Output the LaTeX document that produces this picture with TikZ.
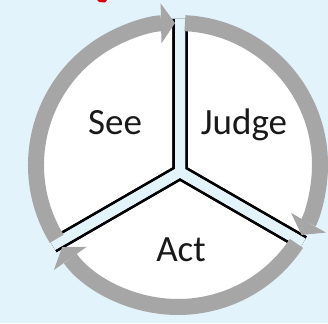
\documentclass[tikz,border=0pt]{standalone}
\usepackage{fontspec}
\setmainfont{Carlito}
\usetikzlibrary{arrows.meta, calc}

\definecolor{skyBg}{RGB}{227,243,251}
\definecolor{ringGray}{RGB}{166,166,166}

\begin{document}
\begin{tikzpicture}[
			x=1pt, y=1pt,
			% Style for the gray ring arcs with arrow heads
			ring/.style={
				draw=ringGray, line width=16pt,
				-{Triangle[width=40pt, length=14pt, line width=0pt]}
			},
			% Double dividers: black border first, light blue core on top
			divider border/.style={draw=black, line width=15.5pt, line join=miter},
			divider core/.style={draw=skyBg, line width=10pt, line join=miter},
			% Stage labels
			stage label/.style={font=\fontsize{37}{44}\selectfont, anchor=base, inner sep=0pt, text=black!90}
			]
			
			% ==============================================================================
			% BACKGROUND
			% ==============================================================================
			\useasboundingbox (0,0) rectangle (328,323);
			\fill[skyBg] (0,0) rectangle (328,323);
			\fill[red!85!black] (97,323) -- (107,323) -- (105,320.5) -- (99,321) -- cycle;
			
			\coordinate (ringC) at (178,158);
			\coordinate (hub) at (180,151);
			\fill[white] (ringC) circle[radius=140];
			
			% ==============================================================================
			% DIVIDERS
			% ==============================================================================
			\coordinate (topEnd) at ($(hub)+(90:153)$);
			\coordinate (leftEnd) at ($(hub)+(210:147)$);
			\coordinate (rightEnd) at ($(hub)+(330:142)$);
			
			\draw[divider border] (topEnd) -- (hub) -- (leftEnd);
			\draw[divider border] (topEnd) -- (hub) -- (rightEnd);
			\draw[divider border] (leftEnd) -- (hub) -- (rightEnd);
			\draw[divider core] (topEnd) -- (hub) -- (leftEnd);
			\draw[divider core] (topEnd) -- (hub) -- (rightEnd);
			\draw[divider core] (leftEnd) -- (hub) -- (rightEnd);
			
			% ==============================================================================
			% RING ARCS (clockwise)
			% ==============================================================================
			\draw[ring] (ringC) ++(211.3:142) arc[start angle=211.3, end angle=91.2, radius=142]; % left
			\draw[ring] (ringC) ++(87.2:142) arc[start angle=87.2, end angle=-29.5, radius=142]; % right
			\draw[ring] (ringC) ++(-33.5:142) arc[start angle=-33.5, end angle=-144.7, radius=142]; % bottom
			
			% ==============================================================================
			% LABELS
			% ==============================================================================
			\node[stage label] (see) at (115,188) {See};
			\node[stage label] (judge) at (244,188) {Judge};
			\node[stage label] (act) at (181,61) {Act};
			
		\end{tikzpicture}
\end{document}
